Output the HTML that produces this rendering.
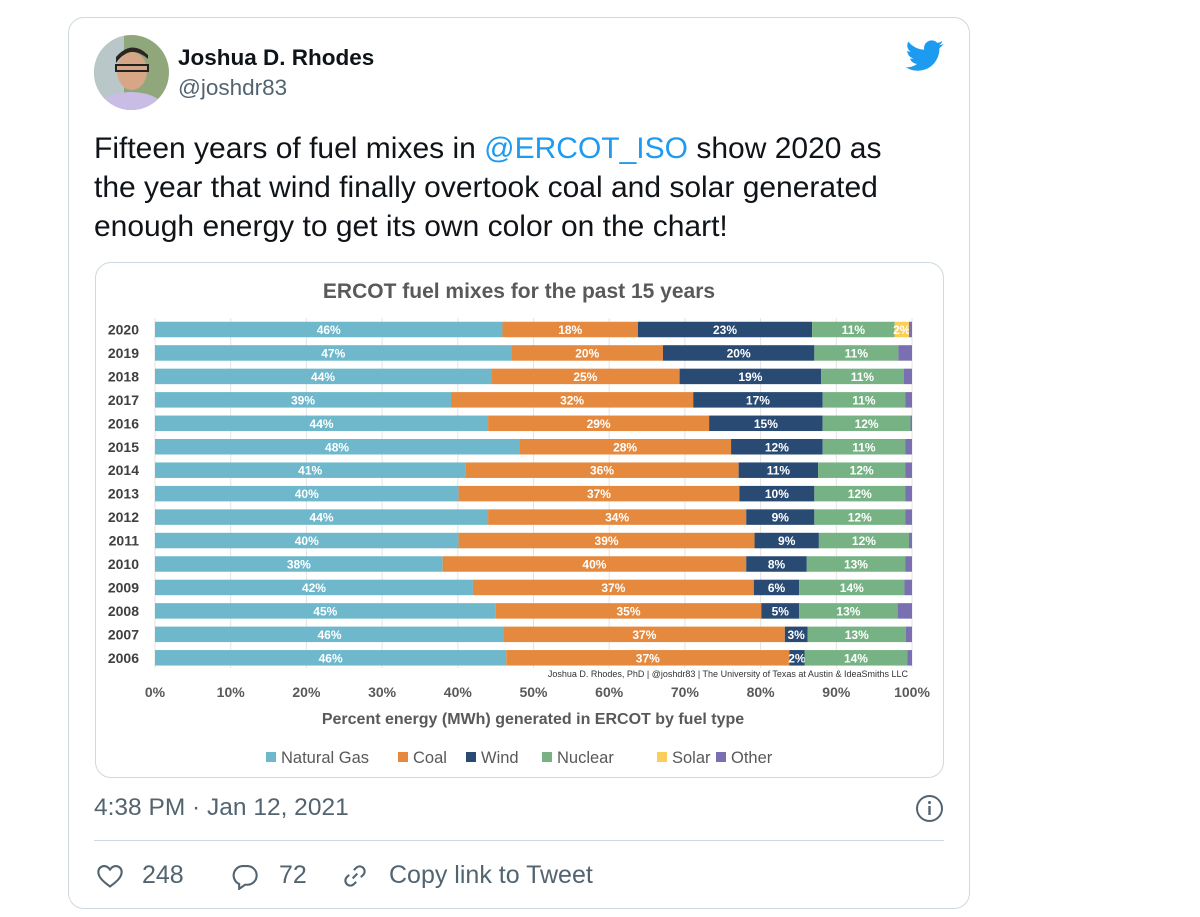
<!DOCTYPE html>
<html><head><meta charset="utf-8">
<style>
body{margin:0;width:1200px;height:917px;background:#fff;font-family:"Liberation Sans",sans-serif;position:relative;overflow:hidden}
.card{position:absolute;left:68px;top:17px;width:902px;height:892px;border:1px solid #cfd9de;border-radius:16px;box-sizing:border-box}
.abs{position:absolute;white-space:nowrap}
</style></head><body>
<div class="card"></div>
<svg class="abs" style="left:94px;top:35px" width="75" height="75">
<defs><clipPath id="c"><circle cx="37.5" cy="37.5" r="37.5"/></clipPath></defs>
<g clip-path="url(#c)"><rect width="75" height="75" fill="#8fa77a"/><rect x="0" y="0" width="30" height="75" fill="#b9c7c9"/>
<ellipse cx="37" cy="75" rx="34" ry="18" fill="#c9bde6"/><ellipse cx="38" cy="36" rx="15" ry="19" fill="#d7a686"/>
<path d="M22 28 Q36 8 54 24 L54 20 Q38 4 22 22Z" fill="#2c2622"/><rect x="22" y="30" width="32" height="6" fill="none" stroke="#222" stroke-width="2"/></g></svg>
<div class="abs" style="left:178px;top:45px;font-size:22.5px;font-weight:bold;color:#0f1419">Joshua D. Rhodes</div>
<div class="abs" style="left:178px;top:75px;font-size:22.5px;color:#536471">@joshdr83</div>
<svg class="abs" style="left:906px;top:40px" width="38" height="32" viewBox="0 0 24 20"><path fill="#1d9bf0" d="M23.6 2.4c-.9.4-1.8.6-2.8.8 1-.6 1.8-1.5 2.1-2.7-.9.6-2 1-3.1 1.2C18.9.7 17.6.1 16.2.1c-2.7 0-4.8 2.2-4.8 4.8 0 .4 0 .8.1 1.1C7.4 5.8 3.9 3.9 1.5.9c-.4.7-.7 1.6-.7 2.4 0 1.7.9 3.2 2.2 4-.8 0-1.5-.2-2.2-.6v.1c0 2.3 1.7 4.3 3.9 4.7-.4.1-.8.2-1.3.2-.3 0-.6 0-.9-.1.6 1.9 2.4 3.3 4.5 3.4-1.7 1.3-3.7 2.1-6 2.1H0c2.1 1.4 4.7 2.2 7.4 2.2 8.9 0 13.7-7.4 13.7-13.7v-.6c.9-.7 1.8-1.5 2.5-2.4z"/></svg>
<div class="abs" style="left:94px;top:129px;font-size:30px;line-height:39px;color:#0f1419">Fifteen years of fuel mixes in <span style="color:#1d9bf0">@ERCOT_ISO</span> show 2020 as<br>the year that wind finally overtook coal and solar generated<br>enough energy to get its own color on the chart!</div>
<div class="abs" style="left:95px;top:262px;width:849px;height:516px;border:1px solid #cfd9de;border-radius:16px;box-sizing:border-box"></div>
<svg id="chart" class="abs" style="left:0;top:0" width="1200" height="800"></svg>
<div class="abs" style="left:94px;top:794px;font-size:24.5px;color:#536471">4:38 PM · Jan 12, 2021</div>
<svg class="abs" style="left:915px;top:794px" width="29" height="29"><circle cx="14.5" cy="14.5" r="12.5" fill="none" stroke="#536471" stroke-width="2"/><rect x="13.3" y="12" width="2.4" height="9" fill="#536471"/><circle cx="14.5" cy="8.5" r="1.5" fill="#536471"/></svg>
<div class="abs" style="left:94px;top:840px;width:850px;height:1px;background:#cfd9de"></div>
<svg class="abs" style="left:96px;top:862px" width="28" height="28" viewBox="0 0 24 24"><path d="M12 21 C5 16 2 12.5 2 8.5 2 5.5 4.3 3.5 7 3.5c2 0 3.6 1 5 3 1.4-2 3-3 5-3 2.7 0 5 2 5 5 0 4-3 7.5-10 12.5z" fill="none" stroke="#536471" stroke-width="1.8"/></svg>
<div class="abs" style="left:142px;top:861px;font-size:25px;color:#536471">248</div>
<svg class="abs" style="left:230px;top:862px" width="30" height="28" viewBox="0 0 24 24"><path d="M10 3.5h4a8 8 0 0 1 0 16h-2l-5 3.5v-4.2A8 8 0 0 1 10 3.5z" fill="none" stroke="#536471" stroke-width="1.8"/></svg>
<div class="abs" style="left:279px;top:861px;font-size:25px;color:#536471">72</div>
<svg class="abs" style="left:341px;top:862px" width="28" height="28" viewBox="0 0 24 24"><g fill="none" stroke="#536471" stroke-width="1.8"><path d="M10 14 l4-4"/><path d="M11 7l2-2a4 4 0 0 1 6 6l-2 2"/><path d="M13 17l-2 2a4 4 0 0 1-6-6l2-2"/></g></svg>
<div class="abs" style="left:389px;top:861px;font-size:25px;color:#536471">Copy link to Tweet</div>
<script>
const years=['2020','2019','2018','2017','2016','2015','2014','2013','2012','2011','2010','2009','2008','2007','2006'];
const fuels=['Natural Gas','Coal','Wind','Nuclear','Solar','Other'];
const gas=[45.9,47.1,44.4,39.1,44.0,48.1,41.0,40.1,44.0,40.1,38.0,42.0,45.0,46.1,46.4];
const coal=[17.9,20.0,24.9,32.0,29.2,28.0,36.1,37.1,34.1,39.1,40.1,37.1,35.1,37.1,37.4];
const wind=[23.0,20.0,18.7,17.1,15.0,12.1,10.5,9.9,9.0,8.5,8.0,6.0,5.0,3.0,2.0];
const nuclear=[10.9,11.1,10.9,10.9,11.6,10.9,11.5,12.0,12.0,11.9,13.0,13.9,13.0,13.0,13.6];
const solar=[1.9,0,0,0,0,0,0,0,0,0,0,0,0,0,0];
const other=[0.4,1.8,1.1,0.9,0.2,0.9,0.9,0.9,0.9,0.4,0.9,1.0,1.9,0.8,0.6];
const ticks=['0%','10%','20%','30%','40%','50%','60%','70%','80%','90%','100%'];
const colors=['#6fb8cb','#e5893f','#284a73','#76b283','#f9cf5a','#7a6fb0'];
const series=[gas,coal,wind,nuclear,solar,other];
const X0=155,X1=912,Y0=329.5,DY=23.45,BH=15.5;
const xs=v=>X0+(X1-X0)*v/100, ys=i=>Y0+i*DY;
const svg=document.getElementById('chart'),NS='http://www.w3.org/2000/svg';
function mk(t,a,txt){const e=document.createElementNS(NS,t);for(const k in a)e.setAttribute(k,a[k]);if(txt!=null)e.textContent=txt;svg.appendChild(e);return e;}
const F='"Liberation Sans Narrow","Liberation Sans",sans-serif';
let e=mk('text',{x:519,y:298,'text-anchor':'middle','font-size':21,'font-weight':'bold',fill:'#595959','font-family':F},'ERCOT fuel mixes for the past 15 years');


ticks.forEach((t,i)=>{const x=xs(i*10);
 let g=mk('line',{x1:x,x2:x,y1:318,y2:668,stroke:'#e3e3e3','stroke-width':1});
 
 
 let l=mk('text',{x:x,y:697,'text-anchor':'middle','font-size':14,'font-weight':'bold',fill:'#595959','font-family':F},t);
 
 
});
years.forEach((y,i)=>{const cy=ys(i);
 let yl=mk('text',{x:139,y:cy+5,'text-anchor':'end','font-size':14,'font-weight':'bold',fill:'#404040','font-family':F},y);
 
 
 let acc=0;
 series.forEach((s,k)=>{const v=s[i];if(v<=0)return;
  const r=mk('rect',{x:xs(acc),y:cy-BH/2,width:xs(acc+v)-xs(acc),height:BH,fill:colors[k]});
  
  
  if(k<5&&v>=1.5){const t=mk('text',{x:(xs(acc)+xs(acc+v))/2,y:cy+4.5,'text-anchor':'middle','font-size':12,'font-weight':'bold',fill:'#fff','font-family':F},Math.round(v)+'%');
   
   }
  acc+=v;});
});
e=mk('text',{x:908,y:677,'text-anchor':'end','font-size':9,fill:'#333','font-family':F},'Joshua D. Rhodes, PhD | @joshdr83 | The University of Texas at Austin & IdeaSmiths LLC');


e=mk('text',{x:533,y:724,'text-anchor':'middle','font-size':16,'font-weight':'bold',fill:'#595959','font-family':F},'Percent energy (MWh) generated in ERCOT by fuel type');


const lx=[266,398,466,542,657,716];
fuels.forEach((f,k)=>{
 const r=mk('rect',{x:lx[k],y:752,width:10,height:10,fill:colors[k]});
 
 
 const t=mk('text',{x:lx[k]+15,y:763,'font-size':16.5,fill:'#595959','font-family':F},f);
 
 
});
</script>
</body></html>
